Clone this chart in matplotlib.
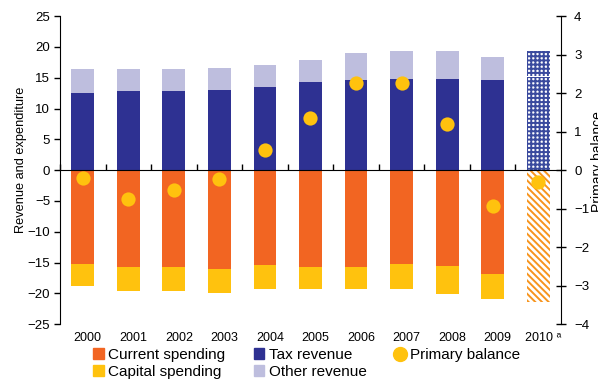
import numpy as np
import matplotlib.pyplot as plt
from matplotlib.patches import Patch
from matplotlib.lines import Line2D
from matplotlib.transforms import ScaledTranslation

plt.rcParams['font.family'] = ['Liberation Sans', 'DejaVu Sans']
plt.rcParams['hatch.linewidth'] = 1.4

years = ['2000', '2001', '2002', '2003', '2004', '2005', '2006', '2007', '2008', '2009']
year_labels = years + ['2010 ᵃ']

# revenue, % of GDP
tax_revenue = [12.6, 12.9, 12.9, 13.05, 13.5, 14.3, 14.55, 14.85, 14.85, 14.55]
other_revenue = [3.85, 3.55, 3.55, 3.55, 3.6, 3.6, 4.5, 4.55, 4.55, 3.85]
# spending, % of GDP (negative)
current_spending = [-15.3, -15.75, -15.75, -16.1, -15.45, -15.75, -15.75, -15.3, -15.6, -16.9]
capital_spending = [-3.5, -3.85, -3.85, -3.8, -3.8, -3.5, -3.5, -3.95, -4.5, -4.0]
# primary balance, right axis
primary_balance = [-0.2, -0.75, -0.52, -0.22, 0.51, 1.36, 2.25, 2.25, 1.21, -0.92, -0.31]

# 2010 projection
tax_2010 = 15.05
other_2010 = 4.2
spending_2010 = -21.4

c_tax = '#2E3192'
c_other = '#BEBEDE'
c_current = '#F26522'
c_capital = '#FFC20E'
c_dot = '#FFC20E'

fig = plt.figure(figsize=(5.98, 3.84), dpi=100)
ax = fig.add_axes([0.1003, 0.156, 0.8378, 0.802])

x = np.arange(len(years))
w = 0.5
ax.bar(x, tax_revenue, w, color=c_tax, zorder=2)
ax.bar(x, other_revenue, w, bottom=tax_revenue, color=c_other, zorder=2)
ax.bar(x, current_spending, w, color=c_current, zorder=2)
ax.bar(x, capital_spending, w, bottom=current_spending, color=c_capital, zorder=2)

x10 = len(years)
ax.bar(x10, tax_2010, w, color='white', edgecolor='#3A4A9E', hatch='++++', lw=0, zorder=2)
ax.bar(x10, other_2010, w, bottom=tax_2010 + 0.15, color='white', edgecolor='#3A4A9E',
       hatch='++++', lw=0, zorder=2)
ax.bar(x10, spending_2010, w, color='white', edgecolor='#F7941D', hatch='\\\\\\\\\\',
       lw=0, zorder=2)

ax.set_xlim(-0.5, 10.5)
ax.set_ylim(-25, 25)
ax.set_yticks(np.arange(-25, 26, 5))
ax.set_xticks(np.arange(len(year_labels)), year_labels)
ax.tick_params(axis='x', length=0, labelsize=9, pad=6)
ax.tick_params(axis='y', direction='out', length=4, width=1, labelsize=9.5, pad=3)
offset = ScaledTranslation(5 / 100, 0, fig.dpi_scale_trans)
for lab in ax.get_xticklabels():
    lab.set_transform(lab.get_transform() + offset)
for s in ['top', 'right', 'bottom']:
    ax.spines[s].set_visible(False)
ax.spines['left'].set_color('black')
fig.text(21 / 598, 1 - 160 / 384, 'Revenue and expenditure', rotation=90,
         ha='center', va='center', fontsize=9.2)

# zero line with category separators
zero = ax.secondary_xaxis(0.5)
zero.set_xticks(np.arange(-0.5, 10, 1), [])
zero.tick_params(direction='out', length=4, width=1, color='black')
zero.spines['bottom'].set_color('#404040')
zero.spines['bottom'].set_linewidth(1.6)
zero.set_zorder(3)

ax2 = ax.twinx()
ax2.set_ylim(-4, 4)
ax2.set_yticks(np.arange(-4, 5, 1))
ax2.tick_params(axis='y', direction='inout', length=7, width=1, labelsize=9.5, pad=6)
for s in ['top', 'left', 'bottom']:
    ax2.spines[s].set_visible(False)
ax2.scatter(np.arange(len(year_labels)), primary_balance, s=105, color=c_dot, zorder=4,
            linewidths=0)
fig.text(591 / 598, 0.578, 'Primary balance', rotation=90, ha='left', va='center',
         fontsize=10)

handles = [
    Patch(color=c_current, label='Current spending'),
    Patch(color=c_capital, label='Capital spending'),
    Patch(color=c_tax, label='Tax revenue'),
    Patch(color=c_other, label='Other revenue'),
    Line2D([], [], ls='none', marker='o', ms=10, color=c_dot, label='Primary balance'),
]
fig.legend(handles=handles, ncol=3, loc='upper left', bbox_to_anchor=(93 / 598, 1 - 348 / 384),
           frameon=False, fontsize=11, handlelength=0.7, handleheight=0.7,
           handletextpad=0.3, columnspacing=1.85, borderpad=0, borderaxespad=0,
           labelspacing=0.2)

fig.savefig('out.png', dpi=100)
